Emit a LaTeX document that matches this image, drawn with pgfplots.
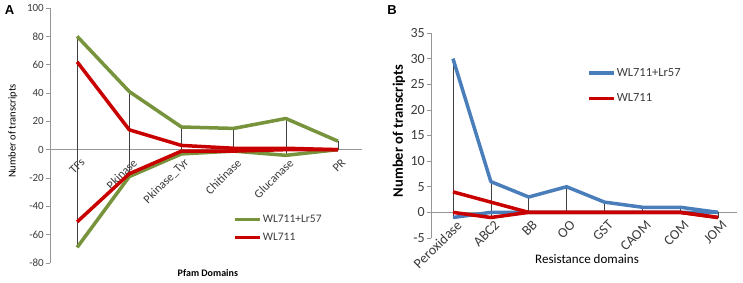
\documentclass[border=0pt]{standalone}
\usepackage{fontspec}
\setmainfont{Carlito}
\newfontfamily\arial{Liberation Sans}
\usepackage{pgfplots}
\pgfplotsset{compat=1.18}
\definecolor{cgreen}{RGB}{119,147,60}
\definecolor{cred}{RGB}{200,0,0}
\definecolor{cblue}{RGB}{74,126,187}
\definecolor{caxis}{RGB}{150,150,150}
\definecolor{ctext}{RGB}{60,60,60}
\pgfplotsset{
  common/.style={
    scale only axis,
    axis x line*=middle, axis y line*=left,
    axis line style={caxis, line width=0.7bp},
    /pgf/number format/assume math mode=true,
    ytick style={caxis, line width=0.7bp},
    major tick length=4bp,
    tick align=outside,
    xtick style={draw=none},
    xticklabel style={rotate=45, anchor=east, inner sep=0bp, text=ctext},
    yticklabel style={text=ctext, inner sep=2bp},
    legend style={draw=none, fill=none, inner sep=0pt,
      nodes={inner sep=1bp, text=ctext}},
    legend cell align=left,
    every axis plot/.append style={line join=round},
  }
}
\begin{document}
\begin{tikzpicture}[x=1bp,y=1bp]
\useasboundingbox (0,0) rectangle (743,282);
\node[font=\arial\bfseries\fontsize{13bp}{13bp}\selectfont] at (9.5,271.5) {A};
\node[font=\arial\bfseries\fontsize{13bp}{13bp}\selectfont] at (392,272) {B};
\begin{axis}[common,
  at={(50bp,19bp)}, anchor=south west,
  width=312bp, height=255bp,
  xmin=-0.52, xmax=5.46, ymin=-80, ymax=100,
  ytick={-80,-60,...,100},
  xtick={0,...,5},
  xticklabels={TFs,Pkinase,Pkinase\_Tyr,Chitinase,Glucanase,PR},
  yticklabel style={font=\fontsize{11bp}{13bp}\selectfont},
  xticklabel style={font=\fontsize{12bp}{14bp}\selectfont, xshift=-1bp, yshift=-9bp},
  ylabel={Number of transcripts},
  ylabel style={at={(axis description cs:-0.119,0.518)}, anchor=center, rotate=0, font=\fontsize{10.5bp}{12bp}\selectfont, text=black},
  xlabel={Pfam Domains},
  xlabel style={at={(axis description cs:0.506,-0.039)}, anchor=center, font=\bfseries\fontsize{10bp}{12bp}\selectfont, text=black},
  legend style={at={(axis description cs:0.587,0.193)}, anchor=north west,
    font=\fontsize{11.5bp}{14bp}\selectfont, row sep=7bp},
  legend image code/.code={\draw[#1, line width=3.5bp] (0bp,0bp) -- (25bp,0bp);},
]
\addplot[black!75, line width=0.5bp, forget plot, unbounded coords=jump] coordinates {
 (0,80) (0,-69) (0,nan) (1,41) (1,-19) (1,nan) (2,16) (2,-3) (2,nan)
 (3,15) (3,-1) (3,nan) (4,22) (4,-4) (4,nan) (5,6) (5,0)};
\addplot[cgreen, line width=3.5bp] coordinates {(0,80) (1,41) (2,16) (3,15) (4,22) (5,6)};
\addlegendentry{WL711+Lr57}
\addplot[cgreen, line width=3.5bp, forget plot] coordinates {(0,-69) (1,-19) (2,-3) (3,-1) (4,-4) (5,0)};
\addplot[cred, line width=3.5bp] coordinates {(0,62) (1,14) (2,3) (3,1) (4,1) (5,0)};
\addlegendentry{WL711}
\addplot[cred, line width=3.5bp, forget plot] coordinates {(0,-51) (1,-17) (2,-1) (3,-1) (4,0) (5,0)};
\end{axis}
\begin{axis}[common,
  at={(431bp,44bp)}, anchor=south west,
  width=306bp, height=205bp,
  xmin=-0.58, xmax=7.5, ymin=-5, ymax=35,
  ytick={-5,0,...,35},
  xtick={0,...,7},
  xticklabels={Peroxidase,ABC2,BB,OO,GST,CAOM,COM,JOM},
  yticklabel style={font=\fontsize{14bp}{16bp}\selectfont},
  xticklabel style={font=\fontsize{14bp}{16bp}\selectfont, xshift=0bp, yshift=-9bp},
  ylabel={Number of transcripts},
  ylabel style={at={(axis description cs:-0.105,0.522)}, anchor=center, font=\bfseries\fontsize{14.5bp}{16bp}\selectfont, text=black},
  xlabel={Resistance domains},
  xlabel style={at={(axis description cs:0.51,-0.102)}, anchor=center, font=\fontsize{13bp}{15bp}\selectfont, text=black},
  legend style={at={(axis description cs:0.51,0.835)}, anchor=north west,
    font=\fontsize{12.5bp}{14bp}\selectfont, row sep=14bp},
  legend image code/.code={\draw[#1, line width=3.5bp] (0bp,0bp) -- (25bp,0bp);},
]
\addplot[black!75, line width=0.5bp, forget plot, unbounded coords=jump] coordinates {
 (0,30) (0,-1) (0,nan) (1,6) (1,-1) (1,nan) (2,3) (2,0) (2,nan)
 (3,5) (3,0) (3,nan) (4,2) (4,0) (4,nan) (5,1) (5,0) (5,nan)
 (6,1) (6,0) (6,nan) (7,0) (7,-1)};
\addplot[cblue, line width=3.5bp] coordinates {(0,30) (1,6) (2,3) (3,5) (4,2) (5,1) (6,1) (7,0)};
\addlegendentry{WL711+Lr57}
\addplot[cblue, line width=3.5bp, forget plot] coordinates {(0,-1) (1,0) (2,0) (3,0) (4,0) (5,0) (6,0) (7,0)};
\addplot[cred, line width=3.5bp] coordinates {(0,4) (1,2) (2,0) (3,0) (4,0) (5,0) (6,0) (7,-1)};
\addlegendentry{WL711}
\addplot[cred, line width=3.5bp, forget plot] coordinates {(0,0) (1,-1) (2,0) (3,0) (4,0) (5,0) (6,0) (7,-1)};
\end{axis}
\end{tikzpicture}
\end{document}
